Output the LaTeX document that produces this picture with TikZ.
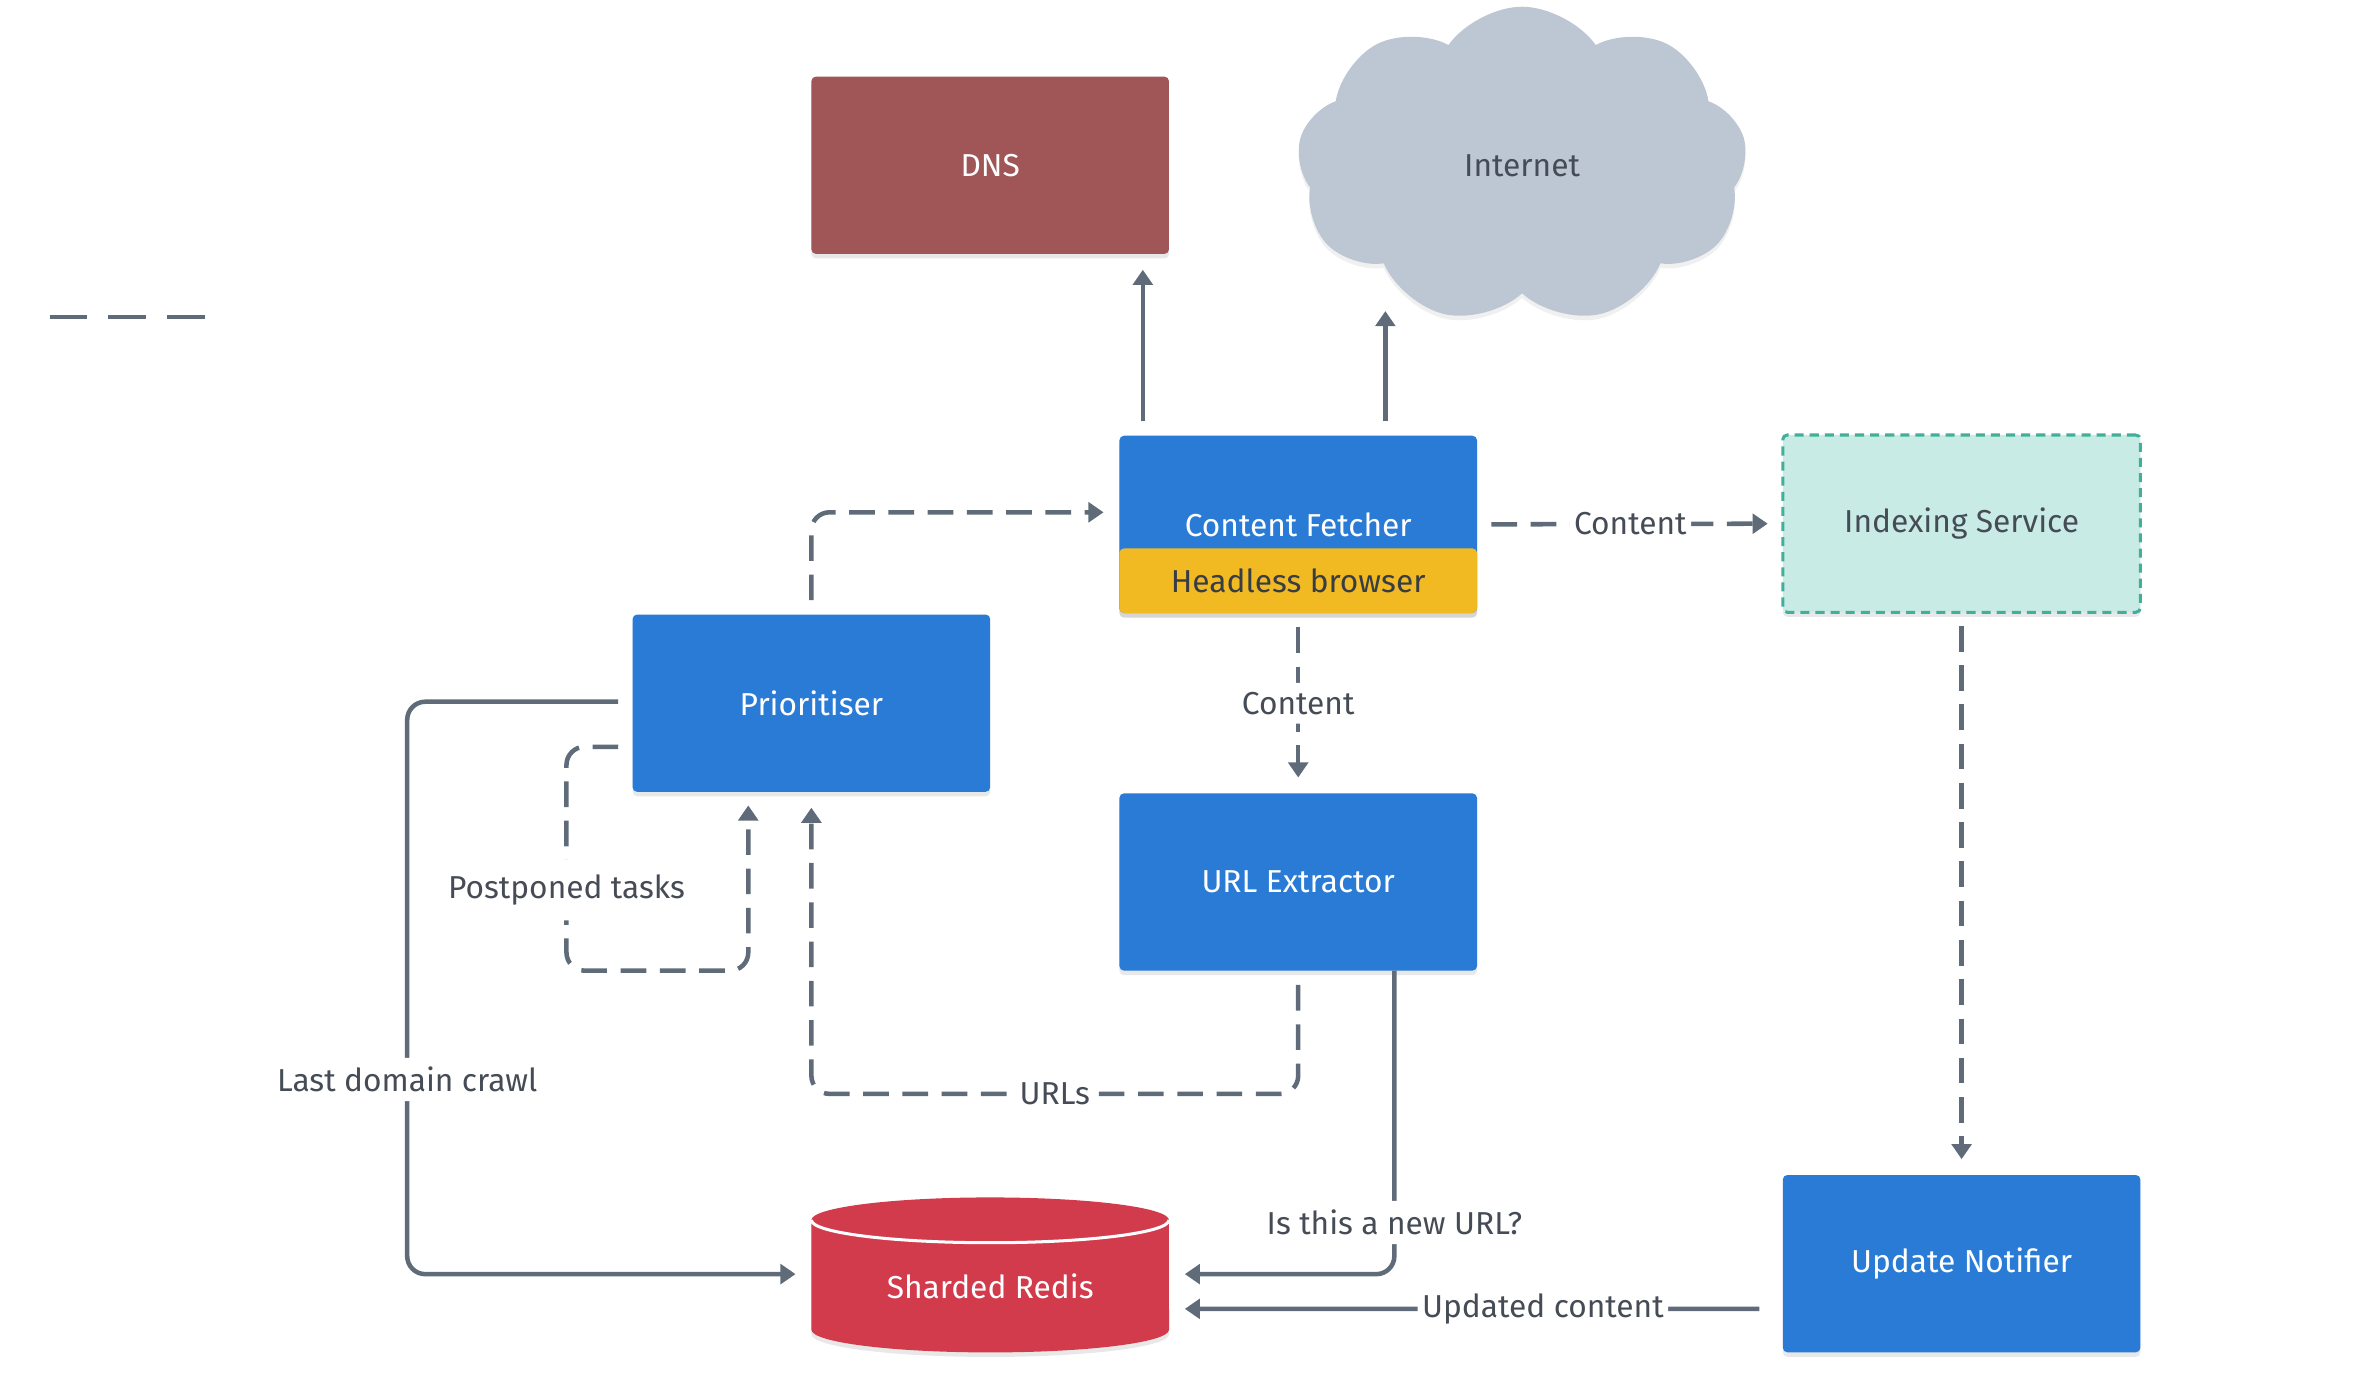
\documentclass[tikz,border=0pt]{standalone}
\usepackage{fontspec}
\setmainfont{Fira Sans}
\usetikzlibrary{arrows.meta,shapes.symbols,shadows}

\definecolor{boxblue}{RGB}{41,123,213}
\definecolor{dnsred}{RGB}{160,85,86}
\definecolor{redisred}{RGB}{210,59,76}
\definecolor{hbyellow}{RGB}{242,186,34}
\definecolor{idxfill}{RGB}{200,235,230}
\definecolor{idxline}{RGB}{64,176,154}
\definecolor{cloudgray}{RGB}{188,199,211}
\definecolor{linegray}{RGB}{95,107,120}
\definecolor{textgray}{RGB}{70,76,86}

\tikzset{every picture/.style={line width=1.5pt}}
\tikzset{
  box/.style={rectangle, rounded corners=1.5pt, inner sep=0pt, minimum width=118.4pt, minimum height=58.7pt,
    fill=boxblue, text=white, font=\fontsize{10.5}{12}\selectfont,
    drop shadow={shadow xshift=0pt, shadow yshift=-1.5pt, opacity=0.18}},
  lbl/.style={fill=white, text=textgray, inner xsep=1.5pt, inner ysep=3pt, font=\fontsize{10.5}{12}\selectfont},
  arr/.style={draw=linegray, rounded corners=6pt, shorten <=4pt, shorten >=4.5pt,
    -{Triangle[width=6.5pt,length=5pt]}},
  dasharr/.style={arr, dash pattern=on 8.5pt off 4.5pt},
}

\begin{document}
\begin{tikzpicture}[x=0.4975pt,y=-0.4975pt]
\useasboundingbox (0,0) rectangle (1568,923.6);

%Shape: Rectangle [DNS]
\node[box, fill=dnsred] (dns) at (659,110) {DNS};
%Shape: Cloud [Internet]
\node[cloud, cloud puffs=9, cloud puff arc=110, aspect=1.45, fill=cloudgray, text=textgray, inner sep=0pt,
  minimum width=149pt, minimum height=105pt, font=\fontsize{10.5}{12}\selectfont,
  drop shadow={shadow xshift=0pt, shadow yshift=-1.5pt, opacity=0.12}] (net) at (1013,110) {Internet};
\coordinate (netin) at (922,198);

%Shape: Rectangle [Content Fetcher]
\node[box] (cf) at (864,349) {Content Fetcher};
\node[box, fill=hbyellow, text=textgray!80!black, minimum height=21.4pt] (hb) at (864,386.5) {Headless browser};
%Shape: Rectangle [Indexing Service]
\node[box, fill=idxfill, text=textgray, draw=idxline, line width=1pt, dash pattern=on 3pt off 2pt,
  drop shadow={opacity=0}] (idx) at (1305.5,348.5) {Indexing Service};
%Shape: Rectangle [Prioritiser]
\node[box] (pri) at (540,468) {Prioritiser};
%Shape: Rectangle [URL Extractor]
\node[box] (ue) at (864,587) {URL Extractor};
%Shape: Rectangle [Update Notifier]
\node[box] (un) at (1305.5,841) {Update Notifier};

%Shape: Can [Sharded Redis]
\fill[redisred, drop shadow={shadow xshift=0pt, shadow yshift=-1.5pt, opacity=0.18}]
  (540,812) arc[start angle=180, end angle=0, x radius=59.2pt, y radius=7.5pt]
  -- (778,885) arc[start angle=0, end angle=-180, x radius=59.2pt, y radius=7.5pt] -- cycle;
\draw[white, line width=1pt] (540,812) arc[start angle=180, end angle=360, x radius=59.2pt, y radius=7.5pt];
\node[text=white, inner sep=0pt, minimum width=118.4pt, minimum height=45pt,
  font=\fontsize{10.5}{12}\selectfont] (redis) at (659,856) {Sharded Redis};

%Straight Lines [legend]
\draw[linegray, dash pattern=on 12.5pt off 7pt] (33,211) -- (138,211);

%Connectors
\draw[arr] ([xshift=8.5pt]cf.north west) -- ([xshift=8.5pt]cf.north west |- dns.south);
\draw[arr] (cf.north -| netin) -- (netin);
\draw[dasharr] (cf.east) -- node[lbl] {Content} (idx.west);
\draw[dasharr] (pri.north) |- ([yshift=4pt]cf.west);
\draw[dasharr] (hb.south) -- node[lbl] {Content} (ue.north);
\draw[dasharr] (ue.south) -- (864,728) -- node[lbl] {URLs} (540,728) -- (pri.south);
\draw[dasharr] ([yshift=-14.5pt]pri.west) -- (377,497) -- node[lbl, pos=0.64, inner ysep=5pt] {Postponed tasks} (377,646) -- (498,646) -- (498,527);
\draw[arr] ([yshift=0.5pt]pri.west) -- (271,467) -- node[lbl, pos=0.66] {Last domain crawl} (271,848) -- ([yshift=4pt]redis.west);
\draw[arr, shorten <=0pt] (928,646) -- node[lbl, pos=0.83] {Is this a new URL?} (928,848) -- ([yshift=4pt]redis.east);
\draw[dasharr] (idx.south) -- (un.north);
\draw[arr, shorten <=7pt] ([yshift=-15pt]un.west) -- node[lbl, pos=0.39] {Updated content} ([yshift=-7.5pt]redis.east);

\end{tikzpicture}
\end{document}
